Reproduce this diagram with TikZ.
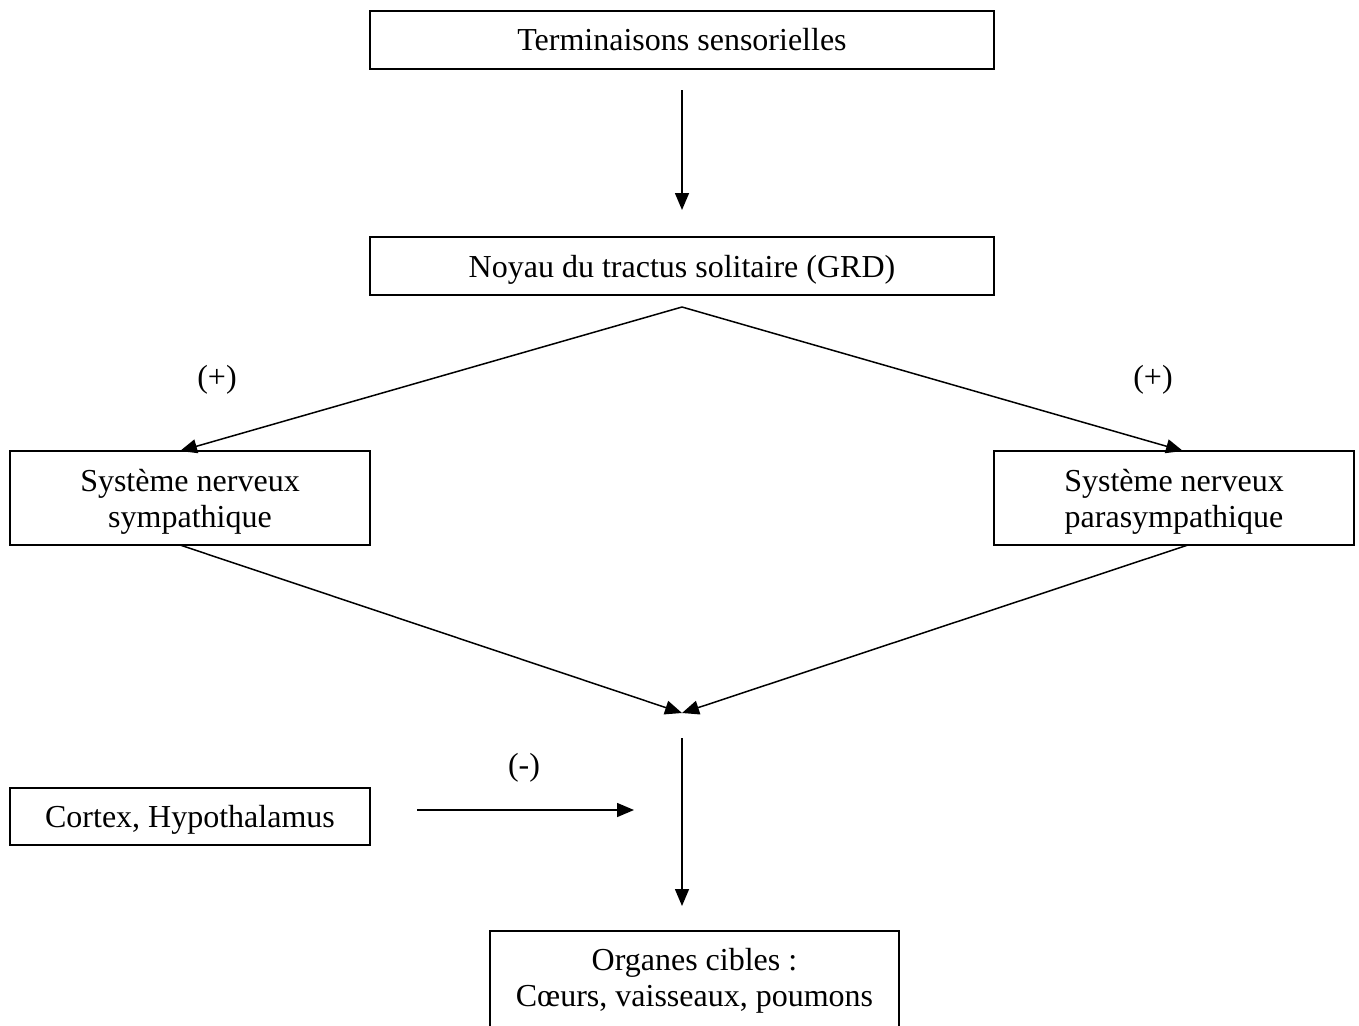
\documentclass[tikz,border=0pt]{standalone}
\usepackage{fontspec}
\setmainfont{Liberation Serif}
\usetikzlibrary{arrows.meta}
\newcommand\twolines[2]{\vtop{\halign{\hfil##\hfil\cr #1\cr #2\cr}}}
\begin{document}
\begin{tikzpicture}[x=1pt,y=-1pt,
  box/.style={draw,line width=1.5pt,inner sep=0pt,
    font=\fontsize{32}{36}\selectfont},
  onebox/.style={box,text height=22pt,text depth=0pt},
  twobox/.style={box,text height=12pt,text depth=24.6pt},
  lbl/.style={inner sep=0pt,font=\fontsize{32}{36}\selectfont},
  conn/.style={line width=1.5pt,-{Triangle[length=17pt,width=14pt]}}]
\useasboundingbox (0,0) rectangle (1359,1025);
\clip (0,0) rectangle (1359,1025);
\node[onebox,minimum width=624pt,minimum height=58pt] (term) at (682,40) {Terminaisons sensorielles};
\node[onebox,minimum width=624pt,minimum height=58pt] (noyau) at (682,266) {Noyau du tractus solitaire (GRD)};
\node[twobox,minimum width=360pt,minimum height=94pt] (symp) at (190,498) {\twolines{Système nerveux}{sympathique}};
\node[twobox,minimum width=360pt,minimum height=94pt] (para) at (1174,498) {\twolines{Système nerveux}{parasympathique}};
\node[onebox,minimum width=360pt,minimum height=57pt] (cortex) at (190,816.5) {Cortex, Hypothalamus};
\node[box,text height=10pt,text depth=30pt,minimum width=409pt,minimum height=98pt] (organ) at (694.5,980) {\twolines{Organes cibles :}{Cœurs, vaisseaux, poumons}};
\node[lbl] (plusL) at (217,380) {(+)};
\node[lbl] (plusR) at (1153,380) {(+)};
\node[lbl] (minus) at (524,768) {(-)};
\coordinate (a1s) at (682,90);
\coordinate (a1e) at (682,210);
\coordinate (split) at (682,307);
\coordinate (sympT) at (180,451);
\coordinate (paraT) at (1183,451);
\coordinate (sympB) at (180,545);
\coordinate (paraB) at (1188,545);
\coordinate (meet) at (682,713);
\coordinate (vs) at (682,738);
\coordinate (ve) at (682,906);
\coordinate (cs) at (417,810);
\coordinate (ce) at (634,810);
\draw[conn] (a1s) -- (a1e);
\draw[conn] (split) -- (sympT);
\draw[conn] (split) -- (paraT);
\draw[conn] (sympB) -- (meet);
\draw[conn] (paraB) -- (meet);
\draw[conn] (vs) -- (ve);
\draw[conn] (cs) -- (ce);
\end{tikzpicture}
\end{document}
